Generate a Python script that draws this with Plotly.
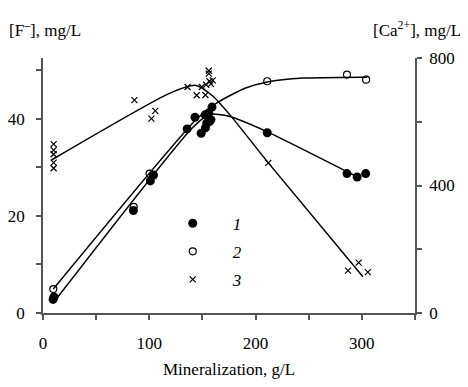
import plotly.graph_objects as go

# series 1: filled circles, [F-] mg/L (left axis)
f_x = [9.5, 10.3, 85, 101, 104, 135.6, 143, 148.8, 152.5, 156, 154, 156.6,
       152.8, 158, 159, 211, 286, 295.6, 303.6]
f_y = [2.8, 3.3, 21.1, 27.2, 28.4, 37.9, 40.3, 37.0, 40.8, 41.2, 39.1, 39.4,
       38.1, 39.8, 42.4, 37.1, 28.7, 28.0, 28.7]

# series 2: open circles, [Ca2+] mg/L (right axis)
ca_x = [9.7, 85.3, 100.3, 211, 286, 304]
ca_y = [75, 333, 437, 727, 748, 732]

# series 3: crosses (right axis)
s3_x = [10, 10, 10, 10, 10, 86, 105.6, 102, 136, 149.4, 144.6, 152.8, 153.5,
        156.6, 159.7, 158, 156, 156, 212, 287, 297, 305.6]
s3_y = [530, 511, 498, 472, 454, 668, 634, 610, 709, 709, 683, 684, 716,
        727, 730, 719, 751, 760, 471, 133, 158, 128]

# fitted curves
fit1_x = [9.7, 140, 157, 175, 211, 296]
fit1_y = [2.1, 38.0, 40.9, 40.5, 37.3, 28.0]
fit2_x = [9.7, 145, 165, 190, 211, 245, 300, 305]
fit2_y = [75, 610, 662, 705, 725, 737, 740, 740]
fit3_x = [8, 119, 144, 160, 178, 212, 301]
fit3_y = [480, 689, 714, 680, 613, 471, 114]

FONT = 'Liberation Serif'
AXIS_COLOR = '#555555'

fig = go.Figure()

for fx, fy, ax in [(fit1_x, fit1_y, 'y'), (fit2_x, fit2_y, 'y2'), (fit3_x, fit3_y, 'y2')]:
    fig.add_trace(go.Scatter(x=fx, y=fy, mode='lines', yaxis=ax,
                             line=dict(color='black', width=1.5, shape='spline', smoothing=0.6),
                             showlegend=False, hoverinfo='skip'))

fig.add_trace(go.Scatter(x=f_x, y=f_y, mode='markers', yaxis='y', name='<i>1</i>',
                         legendgroup='1',
                         marker=dict(symbol='circle', size=9, color='black')))
fig.add_trace(go.Scatter(x=ca_x, y=ca_y, mode='markers', yaxis='y2', name='<i>2</i>',
                         legendgroup='2',
                         marker=dict(symbol='circle-open', size=7, color='black',
                                     line=dict(width=1.2))))
fig.add_trace(go.Scatter(x=s3_x, y=s3_y, mode='markers', yaxis='y2', name='<i>3</i>',
                         legendgroup='3',
                         marker=dict(symbol='x-thin-open', size=6, color='black',
                                     line=dict(width=1.2))))

axis_common = dict(showline=True, linecolor=AXIS_COLOR, linewidth=1.5,
                   ticks='outside', ticklen=5, tickcolor=AXIS_COLOR, tickwidth=1.5,
                   showgrid=False, zeroline=False, automargin=False,
                   tickfont=dict(family=FONT, size=17, color='black'))

# the page adds an 8px body margin, so the figure is 8px smaller and margins shifted
fig.update_layout(
    width=460, height=379,
    margin=dict(l=35, r=53, t=50, b=74),
    paper_bgcolor='white', plot_bgcolor='white',
    font=dict(family=FONT, size=17, color='black'),
    xaxis=dict(range=[0, 350], tickvals=[0, 50, 100, 150, 200, 250, 300, 350],
               ticktext=['0', '', '100', '', '200', '', '300', ''],
               ticklabelstandoff=9,
               **axis_common),
    yaxis=dict(range=[0, 52.5], tickvals=[0, 10, 20, 30, 40, 50],
               ticktext=['0', '', '20', '', '40', ''], ticklabelstandoff=8,
               **axis_common),
    yaxis2=dict(range=[0, 800], overlaying='y', side='right',
                tickvals=[0, 200, 400, 600, 800],
                ticktext=['0', '', '400', '', '800'], ticklabelstandoff=4,
                **axis_common),
    legend=dict(x=0.295, y=0.421, xanchor='left', yanchor='top',
                bgcolor='rgba(0,0,0,0)', itemwidth=70, tracegroupgap=3,
                font=dict(family=FONT, size=17)),
    annotations=[
        dict(text='[F<sup>\u2012</sup>], mg/L', xref='paper', yref='paper',
             x=-0.097, y=1.115, xanchor='left', yanchor='middle', showarrow=False,
             font=dict(family=FONT, size=17)),
        dict(text='[Ca<sup>2+</sup>], mg/L', xref='paper', yref='paper',
             x=1.13, y=1.115, xanchor='right', yanchor='middle', showarrow=False,
             font=dict(family=FONT, size=17)),
        dict(text='Mineralization, g/L', xref='paper', yref='paper',
             x=0.5, y=-0.22, xanchor='center', yanchor='middle', showarrow=False,
             font=dict(family=FONT, size=17)),
    ],
)

fig.write_html('out.html')
